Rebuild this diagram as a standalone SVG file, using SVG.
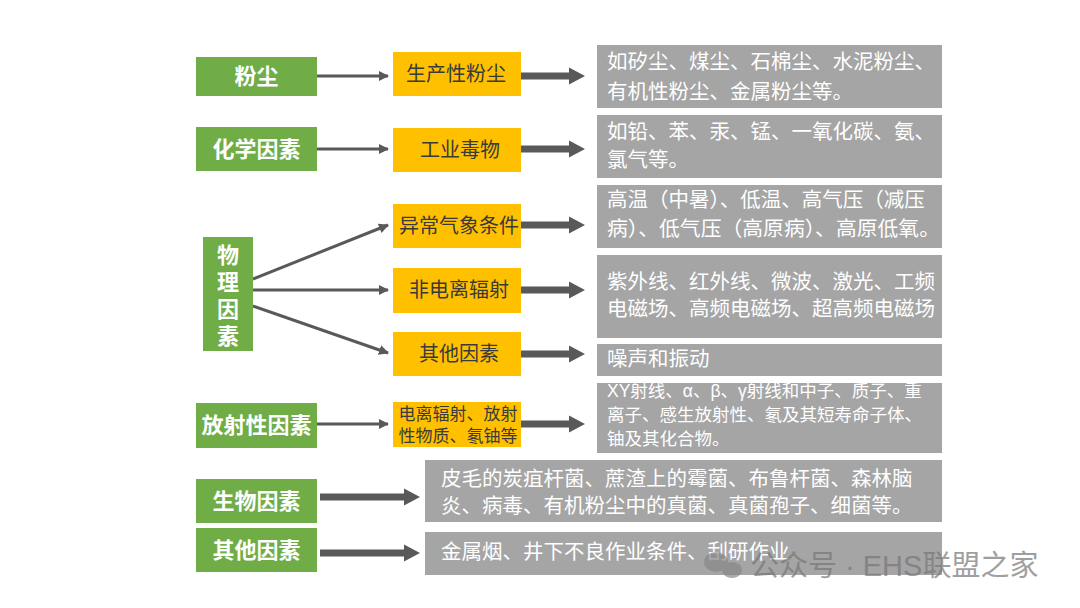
<svg xmlns="http://www.w3.org/2000/svg" width="1080" height="608" viewBox="0 0 1080 608">
<defs>
<style>
text{font-family:"Liberation Sans","Noto Sans CJK SC",sans-serif}
.g{fill:#70AD47}
.y{fill:#FFC000}
.b{fill:#A5A5A5}
.gt{fill:#fff;font-size:22px;font-weight:bold;text-anchor:middle}
.yt{fill:#3a3a3a;font-size:20px;text-anchor:middle}
.bt{fill:#fff;font-size:20.5px}
.thin{stroke:#595959;stroke-width:3;fill:none;marker-end:url(#ah)}
.thick{fill:#595959}
</style>
<marker id="ah" markerWidth="10" markerHeight="10" refX="9" refY="5" orient="auto" markerUnits="userSpaceOnUse">
<path d="M0,0 L10,5 L0,10 Z" fill="#595959"/>
</marker>
</defs>
<rect width="1080" height="608" fill="#fff"/>

<g id="connectors">
<line class="thin" x1="317" y1="76" x2="388" y2="76"/>
<line class="thin" x1="317" y1="149" x2="388" y2="149"/>
<line class="thin" x1="253" y1="279" x2="388" y2="225"/>
<line class="thin" x1="253" y1="290" x2="388" y2="290"/>
<line class="thin" x1="253" y1="306" x2="388" y2="353"/>
<line class="thin" x1="317" y1="424" x2="388" y2="424"/>
<path class="thick" d="M521,72.5 H569 V67.5 L585,76 L569,84.5 V79.5 H521 Z"/>
<path class="thick" d="M521,145.5 H569 V140.5 L585,149 L569,157.5 V152.5 H521 Z"/>
<path class="thick" d="M521,221.5 H569 V216.5 L585,225 L569,233.5 V228.5 H521 Z"/>
<path class="thick" d="M521,286.5 H569 V281.5 L585,290 L569,298.5 V293.5 H521 Z"/>
<path class="thick" d="M521,350.5 H569 V345.5 L585,354 L569,362.5 V357.5 H521 Z"/>
<path class="thick" d="M521,420.5 H569 V415.5 L585,424 L569,432.5 V427.5 H521 Z"/>
<path class="thick" d="M320,493.5 H404 V488.5 L420,497 L404,505.5 V500.5 H320 Z"/>
<path class="thick" d="M320,549.5 H404 V544.5 L420,553 L404,561.5 V556.5 H320 Z"/>
</g>

<g id="n-dust"><rect class="g" x="196" y="57" width="121" height="39"/><text class="gt" x="256.5" y="84">粉尘</text></g>
<g id="n-chem"><rect class="g" x="196" y="127" width="121" height="44"/><text class="gt" x="256.5" y="157">化学因素</text></g>
<g id="n-phys"><rect class="g" x="203" y="237" width="50" height="114"/>
<text class="gt" x="228" y="263">物</text><text class="gt" x="228" y="290">理</text><text class="gt" x="228" y="317">因</text><text class="gt" x="228" y="344">素</text></g>
<g id="n-rad"><rect class="g" x="196" y="403" width="121" height="45"/><text class="gt" x="256.5" y="433">放射性因素</text></g>
<g id="n-bio"><rect class="g" x="196" y="479" width="121" height="44"/><text class="gt" x="256.5" y="509">生物因素</text></g>
<g id="n-other"><rect class="g" x="196" y="528" width="121" height="44"/><text class="gt" x="256.5" y="558">其他因素</text></g>

<g id="y-dust"><rect class="y" x="393" y="52" width="128" height="44"/><text class="yt" x="456" y="81">生产性粉尘</text></g>
<g id="y-chem"><rect class="y" x="393" y="128" width="128" height="44"/><text class="yt" x="460" y="157">工业毒物</text></g>
<g id="y-weather"><rect class="y" x="393" y="204" width="128" height="44"/><text class="yt" x="459" y="233">异常气象条件</text></g>
<g id="y-nonion"><rect class="y" x="393" y="268" width="128" height="45"/><text class="yt" x="459" y="297">非电离辐射</text></g>
<g id="y-otherphys"><rect class="y" x="393" y="332" width="128" height="44"/><text class="yt" x="459" y="361">其他因素</text></g>
<g id="y-rad"><rect class="y" x="393" y="402" width="128" height="45"/>
<text class="yt" style="font-size:17px" x="458" y="420">电离辐射、放射</text><text class="yt" style="font-size:17px" x="458" y="442">性物质、氡铀等</text></g>

<g id="d-dust"><rect class="b" x="597" y="45" width="345" height="63"/>
<text class="bt" x="607" y="69">如矽尘、煤尘、石棉尘、水泥粉尘、</text><text class="bt" x="607" y="99">有机性粉尘、金属粉尘等。</text></g>
<g id="d-chem"><rect class="b" x="597" y="115" width="345" height="63"/>
<text class="bt" x="607" y="139">如铅、苯、汞、锰、一氧化碳、氨、</text><text class="bt" x="607" y="167">氯气等。</text></g>
<g id="d-weather"><rect class="b" x="597" y="185" width="345" height="63"/>
<text class="bt" x="607" y="207">高温（中暑）、低温、高气压（减压</text><text class="bt" x="607" y="236" textLength="333" lengthAdjust="spacingAndGlyphs">病）、低气压（高原病）、高原低氧。</text></g>
<g id="d-nonion"><rect class="b" x="597" y="255" width="345" height="83"/>
<text class="bt" x="607" y="289">紫外线、红外线、微波、激光、工频</text><text class="bt" x="607" y="316">电磁场、高频电磁场、超高频电磁场</text></g>
<g id="d-noise"><rect class="b" x="597" y="344" width="345" height="32"/>
<text class="bt" x="607" y="366">噪声和振动</text></g>
<g id="d-rad"><rect class="b" x="597" y="383" width="345" height="70"/>
<text class="bt" style="font-size:17.5px" x="607" y="397">XY射线、α、β、γ射线和中子、质子、重</text>
<text class="bt" style="font-size:17.5px" x="607" y="421">离子、感生放射性、氡及其短寿命子体、</text>
<text class="bt" style="font-size:17.5px" x="607" y="445">铀及其化合物。</text></g>
<g id="d-bio"><rect class="b" x="425" y="460" width="517" height="62"/>
<text class="bt" x="441" y="486">皮毛的炭疽杆菌、蔗渣上的霉菌、布鲁杆菌、森林脑</text>
<text class="bt" x="441" y="513">炎、病毒、有机粉尘中的真菌、真菌孢子、细菌等。</text></g>
<g id="d-other"><rect class="b" x="425" y="532" width="517" height="43"/>
<text class="bt" x="441" y="559">金属烟、井下不良作业条件、刮研作业</text></g>

<g id="watermark" opacity="0.7">
<ellipse cx="716" cy="562" rx="12" ry="10" fill="#888"/>
<ellipse cx="732" cy="570" rx="10" ry="8" fill="#888"/>
<text x="750" y="576" fill="#777" style="font-size:29px">公众号 · EHS联盟之家</text>
</g>
</svg>
